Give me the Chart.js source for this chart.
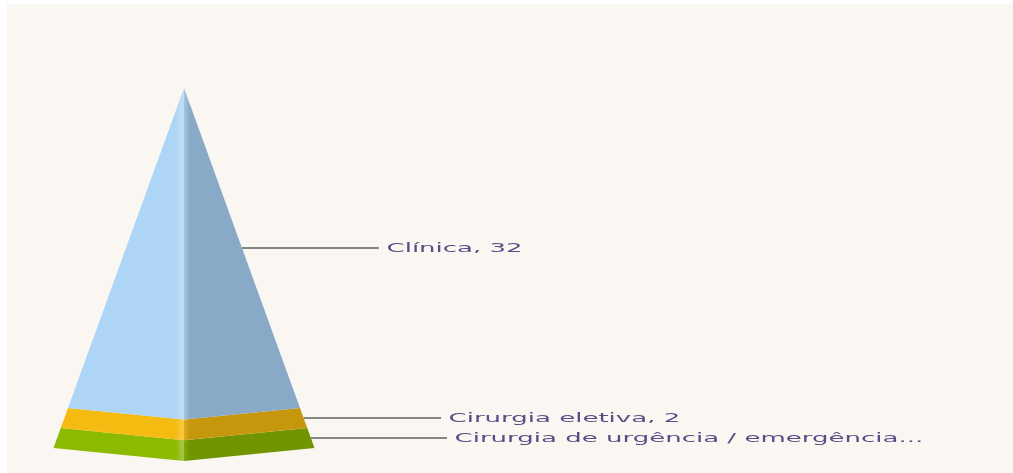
<!DOCTYPE html>
<html><head><meta charset="utf-8">
<script src="https://cdn.jsdelivr.net/npm/chart.js@4"></script>
<style>
html,body{margin:0;padding:0;background:#fff;overflow:hidden}
#wrap{position:absolute;left:7px;top:4px;width:1006px;height:469px;background:#faf7f2}
canvas{filter:blur(0.6px)}
</style></head><body>
<div id="wrap"><canvas id="c" width="1006" height="469"></canvas></div>
<script>
// Data
const categories = ["Clínica", "Cirurgia eletiva", "Cirurgia de urgência / emergência"];
const values = [32, 2, 2];
const labels = ["Clínica, 32", "Cirurgia eletiva, 2", "Cirurgia de urgência / emergência..."];
const leftColors = ["#aed5f6", "#f6bb10", "#8cba00"];
const leftGlow = ["#c0dcf4", "#f8c740", "#a2c640"];
const rightColors = ["#89aac6", "#c6970d", "#709500"];
const rightShade = ["#a8c6e0", "#dfac1c", "#82ab0c"];

// Pyramid geometry, in value units
const SPREAD = 0.3625, SAG = 0.0361;
const leaderEnds = [19.5, 25.7, 26.3];
const labelGap = 0.75;
const textColor = "#5b4c85";
const textStretch = 2.08;

let cum = [0];
values.forEach(v => cum.push(cum[cum.length - 1] + v));

function faceFill(i, side) {
  return ctx => {
    const ch = ctx.chart, sc = ch.scales.x;
    if (!ch.chartArea || !sc) return side < 0 ? leftColors[i] : rightColors[i];
    const p0 = sc.getPixelForValue(0);
    if (side < 0) {
      const g = ch.ctx.createLinearGradient(p0 - 8, 0, p0, 0);
      g.addColorStop(0, leftColors[i]);
      g.addColorStop(0.7, leftGlow[i]);
      g.addColorStop(1, leftGlow[i]);
      return g;
    }
    const g = ch.ctx.createLinearGradient(p0, 0, p0 + 6, 0);
    g.addColorStop(0, rightShade[i]);
    g.addColorStop(1, rightColors[i]);
    return g;
  };
}

const datasets = [];
values.forEach((v, i) => {
  const t = cum[i], b = cum[i + 1];
  [-1, 1].forEach(side => {
    datasets.push({
      label: categories[i],
      data: [
        {x: 0, y: t + SAG * t},
        {x: side * SPREAD * t, y: t},
        {x: side * SPREAD * b, y: b},
        {x: 0, y: b + SAG * b},
        {x: 0, y: t + SAG * t}
      ],
      showLine: true, fill: 'shape', tension: 0, pointRadius: 0, borderWidth: 0,
      backgroundColor: faceFill(i, side), order: 2
    });
  });
  const mid = (t + b) / 2;
  datasets.push({
    label: labels[i],
    data: [{x: SPREAD * mid, y: mid}, {x: leaderEnds[i], y: mid}],
    showLine: true, fill: false, tension: 0, pointRadius: 0,
    borderColor: "#868682", borderWidth: 2, order: 1
  });
});

const labelPlugin = {
  id: 'pyramidLabels',
  afterDatasetsDraw(chart) {
    const c = chart.ctx, sx = chart.scales.x, sy = chart.scales.y;
    c.save();
    c.font = "12.5px 'DejaVu Sans'";
    c.fillStyle = textColor;
    c.textBaseline = "middle";
    labels.forEach((t, i) => {
      const mid = (cum[i] + cum[i + 1]) / 2;
      c.save();
      c.translate(sx.getPixelForValue(leaderEnds[i] + labelGap), sy.getPixelForValue(mid) + 1);
      c.scale(textStretch, 1);
      c.fillText(t, 0, 0);
      c.restore();
    });
    c.restore();
  }
};

new Chart(document.getElementById('c'), {
  type: 'scatter',
  data: {datasets},
  plugins: [labelPlugin],
  options: {
    responsive: false, animation: false,
    layout: {padding: 0},
    plugins: {legend: {display: false}, tooltip: {enabled: false}, title: {display: false}},
    scales: {
      x: {type: 'linear', display: false, min: -17.7, max: 82.9},
      y: {type: 'linear', display: false, reverse: true, min: -8.4, max: 38.5}
    }
  }
});
</script>
</body></html>
